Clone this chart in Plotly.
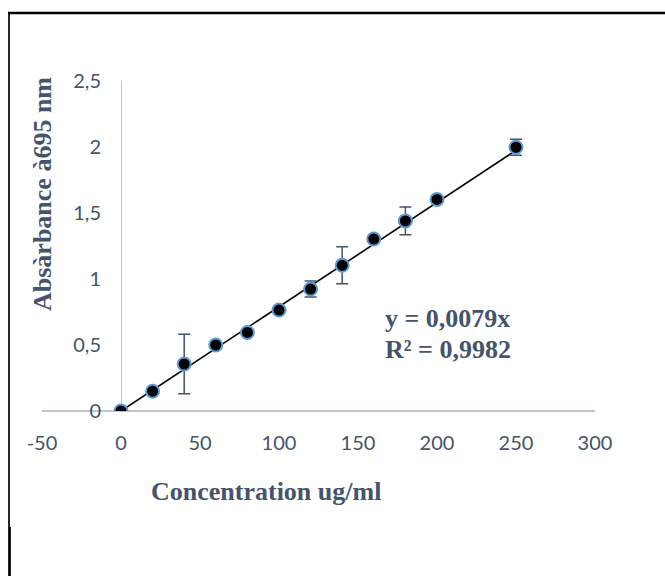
import plotly.graph_objects as go

# Data
conc = [0, 20, 40, 60, 80, 100, 120, 140, 160, 180, 200, 250]
absorb = [0, 0.15, 0.356, 0.50, 0.595, 0.765, 0.924, 1.104, 1.303, 1.44, 1.603, 1.998]
err = [0, 0, 0.225, 0, 0, 0, 0.06, 0.14, 0, 0.105, 0, 0.06]
slope = 0.0079
trend_x = [0, 250]
trend_y = [slope * v for v in trend_x]

x_ticks = [-50, 0, 50, 100, 150, 200, 250, 300]
x_ticktext = ["-50", "0", "50", "100", "150", "200", "250", "300"]
y_ticks = [0, 0.5, 1, 1.5, 2, 2.5]
y_ticktext = ["0", "0,5", "1", "1,5", "2", "2,5"]

slate = "#44546A"
axis_grey = "#BCC4D0"

fig = go.Figure()
fig.add_trace(go.Scatter(x=trend_x, y=trend_y, mode="lines",
                         line=dict(color="black", width=1.6),
                         showlegend=False, hoverinfo="skip"))
fig.add_trace(go.Scatter(x=conc, y=absorb, mode="markers",
                         marker=dict(color="black", size=13,
                                     line=dict(color="#5B9BD5", width=2)),
                         error_y=dict(type="data", array=err, visible=True,
                                      color=slate, thickness=1.5, width=6),
                         showlegend=False))

fig.update_layout(
    width=665, height=576, autosize=False,
    margin=dict(l=42, r=70, t=81, b=165, pad=0),
    paper_bgcolor="white", plot_bgcolor="white",
    font=dict(family="Lato", color=slate, size=20),
    xaxis=dict(range=[-50, 300], tickvals=x_ticks, ticktext=x_ticktext,
               showgrid=False, showline=False, ticks="",
               zeroline=True, zerolinecolor=axis_grey, zerolinewidth=1,
               tickfont=dict(family="Lato", size=20, color=slate),
               ticklabelstandoff=18),
    yaxis=dict(range=[0, 2.5], tickvals=y_ticks, ticktext=y_ticktext,
               showgrid=False, showline=False, ticks="",
               zeroline=True, zerolinecolor=axis_grey, zerolinewidth=2,
               anchor="free", position=50/350,
               tickfont=dict(family="Lato", size=20, color=slate),
               ticklabelstandoff=20),
)

title_font = dict(family="Liberation Serif", size=26, color=slate, weight="bold")
eq_font = dict(family="Liberation Serif", size=26, color=slate, weight="bold")

def px_x(p):
    return (p - 42) / 553

def px_y(p):
    return (411 - p) / 330

fig.add_annotation(text="Concentration ug/ml", xref="paper", yref="paper",
                   x=px_x(266), y=px_y(491), xanchor="center", yanchor="middle",
                   showarrow=False, font=title_font)
fig.add_annotation(text="Absàrbance à695 nm", xref="paper", yref="paper",
                   x=px_x(42), y=px_y(194), xanchor="center", yanchor="middle",
                   textangle=-90, showarrow=False, font=title_font)
fig.add_annotation(text="y = 0,0079x", xref="paper", yref="paper",
                   x=px_x(383), y=px_y(318), xanchor="left", yanchor="middle",
                   showarrow=False, font=eq_font)
fig.add_annotation(text="R² = 0,9982", xref="paper", yref="paper",
                   x=px_x(383), y=px_y(349), xanchor="left", yanchor="middle",
                   showarrow=False, font=eq_font)

# page frame lines
fig.add_shape(type="line", xref="paper", yref="paper",
              x0=px_x(8), x1=px_x(665), y0=px_y(13), y1=px_y(13),
              line=dict(color="black", width=2.5))
fig.add_shape(type="line", xref="paper", yref="paper",
              x0=px_x(9), x1=px_x(9), y0=px_y(12), y1=px_y(527),
              line=dict(color="black", width=1.7))
fig.add_shape(type="line", xref="paper", yref="paper",
              x0=px_x(9.5), x1=px_x(9.5), y0=px_y(527), y1=px_y(578),
              line=dict(color="black", width=2.7))

fig.write_html("out.html", config={"displayModeBar": False},
               post_script="document.body.style.margin='0';document.body.style.overflow='hidden';")
